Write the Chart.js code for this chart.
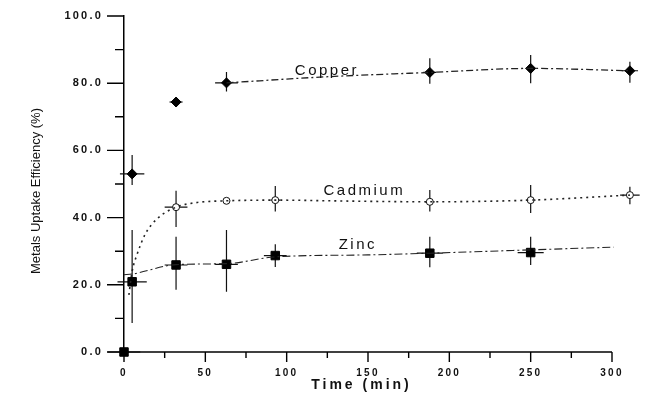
<!DOCTYPE html>
<html><head><meta charset="utf-8">
<script src="https://cdn.jsdelivr.net/npm/chart.js@4"></script>
<style>html,body{margin:0;padding:0;background:#fff}#wrap{width:645px;height:393px}</style>
</head><body><div id="wrap"><canvas id="c" width="645" height="393"></canvas></div>
<script>
// ---- data ----
const xTickValues = [0, 50, 100, 150, 200, 250, 300];
const yTickValues = [0, 20, 40, 60, 80, 100];

const copperT  = [5, 32, 63, 188, 250, 311];
const copperY  = [53.0, 74.4, 80.1, 83.2, 84.4, 83.7];
const copperLo = [49.7, null, 77.5, 79.8, 80.0, 80.1];
const copperHi = [58.6, null, 83.3, 87.4, 88.4, 86.4];
const copperXe = [7.5, 4, 7, 4, 3, 5];
const copperCurveT = [63, 124, 188, 250, 311];
const copperCurveY = [80.1, 81.9, 83.2, 84.4, 83.7];

const cadmiumT  = [32, 63, 93, 188, 250, 311];
const cadmiumY  = [43.1, 45.0, 45.2, 44.7, 45.2, 46.7];
const cadmiumLo = [37.2, null, 41.8, 41.8, 41.4, 44.0];
const cadmiumHi = [48.0, null, 49.4, 48.2, 49.7, 49.2];
const cadmiumXe = [7, 0, 3, 3, 3, 6];
const cadmiumCurveT = [3, 5, 8, 13, 20, 32, 45, 63, 93, 140, 188, 250, 311];
const cadmiumCurveY = [17, 24, 29, 35, 39.5, 43.1, 44.5, 45.0, 45.2, 44.9, 44.7, 45.2, 46.7];

const zincT  = [0, 5, 32, 63, 93, 188, 250];
const zincY  = [0, 20.9, 25.9, 26.1, 28.7, 29.4, 29.6];
const zincLo = [null, 8.6, 18.5, 17.9, 25.3, 25.2, 25.9];
const zincHi = [null, 36.3, 34.3, 36.3, 32.1, 34.3, 34.3];
const zincXe = [10, 9, 7, 7, 7, 8, 8];
const zincCurveT = [0, 5, 32, 63, 93, 150, 188, 250, 301];
const zincCurveY = [23.0, 23.2, 26.0, 26.3, 28.3, 28.9, 29.4, 30.4, 31.2];

const seriesLabels = ['Copper', 'Cadmium', 'Zinc'];
const seriesLabelT = [124, 147, 143];
const seriesLabelY = [83.6, 47.9, 31.8];

const yTitle = 'Metals Uptake Efficiency (%)';
const xTitle = 'Time (min)';

const pts = (xs, ys) => xs.map((x, i) => ({x: x, y: ys[i]}));

const errSeries = [
  {t: copperT, y: copperY, lo: copperLo, hi: copperHi, xe: copperXe},
  {t: cadmiumT, y: cadmiumY, lo: cadmiumLo, hi: cadmiumHi, xe: cadmiumXe},
  {t: zincT, y: zincY, lo: zincLo, hi: zincHi, xe: zincXe}
];

const errorBars = {
  id: 'errorBars',
  beforeDatasetsDraw(chart) {
    const {ctx, scales: {x, y}} = chart;
    ctx.save();
    ctx.strokeStyle = '#111';
    ctx.lineWidth = 1.2;
    errSeries.forEach(s => {
      s.t.forEach((t, i) => {
        const px = x.getPixelForValue(t), py = y.getPixelForValue(s.y[i]);
        ctx.beginPath();
        if (s.lo[i] !== null) {
          ctx.moveTo(px, y.getPixelForValue(s.lo[i]));
          ctx.lineTo(px, y.getPixelForValue(s.hi[i]));
        }
        if (s.xe[i]) {
          ctx.moveTo(x.getPixelForValue(t - s.xe[i]), py);
          ctx.lineTo(x.getPixelForValue(t + s.xe[i]), py);
        }
        ctx.stroke();
      });
    });
    ctx.restore();
  }
};

const decor = {
  id: 'decor',
  beforeDraw(chart) {
    chart.ctx.letterSpacing = '2.2px';
  },
  afterDraw(chart) {
    const {ctx, scales: {x, y}, chartArea: a} = chart;
    ctx.save();
    ctx.strokeStyle = '#000';
    ctx.lineWidth = 1.5;
    ctx.beginPath();
    ctx.moveTo(x.getPixelForValue(0), a.bottom);
    ctx.lineTo(x.getPixelForValue(300), a.bottom);
    ctx.stroke();
    ctx.lineWidth = 1.4;
    ctx.beginPath();
    for (let v = 0; v <= 100; v += 10) {
      const py = y.getPixelForValue(v);
      const len = (v % 20 === 0) ? 17 : 9;
      ctx.moveTo(a.left - len, py); ctx.lineTo(a.left, py);
    }
    for (let v = 0; v <= 300; v += 25) {
      const px = x.getPixelForValue(v);
      const len = (v % 50 === 0) ? 10 : 6;
      ctx.moveTo(px, a.bottom); ctx.lineTo(px, a.bottom + len);
    }
    ctx.stroke();

    ctx.fillStyle = '#111';
    ctx.textBaseline = 'middle';
    ctx.textAlign = 'left';
    ctx.font = '15px "Liberation Sans", Arial, sans-serif';
    ctx.letterSpacing = '2.5px';
    seriesLabels.forEach((s, i) => {
      const w = ctx.measureText(s).width;
      ctx.fillText(s, x.getPixelForValue(seriesLabelT[i]) - w / 2 + 1.2, y.getPixelForValue(seriesLabelY[i]));
    });

    ctx.font = 'bold 14px "Liberation Sans", Arial, sans-serif';
    ctx.letterSpacing = '3px';
    const wx = ctx.measureText(xTitle).width;
    ctx.fillText(xTitle, 360 - wx / 2 + 1.5, 385);

    ctx.letterSpacing = '0px';
    ctx.font = '13px "Liberation Sans", Arial, sans-serif';
    ctx.translate(36, 191);
    ctx.rotate(-Math.PI / 2);
    ctx.textAlign = 'center';
    ctx.fillText(yTitle, 0, 0);
    ctx.restore();
  }
};

const lineBase = {type: 'line', showLine: true, pointRadius: 0, fill: false, clip: false,
  borderColor: '#222', cubicInterpolationMode: 'monotone'};

new Chart(document.getElementById('c'), {
  type: 'scatter',
  data: {
    datasets: [
      Object.assign({}, lineBase, {label: 'Copper fit', data: pts(copperCurveT, copperCurveY), borderWidth: 1.3, borderDash: [7, 3, 2, 3]}),
      Object.assign({}, lineBase, {label: 'Cadmium fit', data: pts(cadmiumCurveT, cadmiumCurveY), borderWidth: 1.6, borderDash: [2, 4]}),
      Object.assign({}, lineBase, {label: 'Zinc fit', data: pts(zincCurveT, zincCurveY), borderWidth: 1.1, borderDash: [8, 3, 2, 3]}),
      {label: 'Copper', data: pts(copperT, copperY), showLine: false, clip: false, pointStyle: 'rectRot', pointRadius: 5,
        backgroundColor: '#000', borderColor: '#000', borderWidth: 1},
      {label: 'Cadmium', data: pts(cadmiumT, cadmiumY), showLine: false, clip: false, pointStyle: 'circle', pointRadius: 3.5,
        backgroundColor: '#fff', borderColor: '#111', borderWidth: 1},
      {label: 'Zinc', data: pts(zincT, zincY), showLine: false, clip: false, pointStyle: 'rect', pointRadius: 6,
        backgroundColor: '#000', borderColor: '#000', borderWidth: 1}
    ]
  },
  options: {
    responsive: false,
    animation: false,
    devicePixelRatio: 1,
    layout: {padding: {top: 16, right: 8.6, left: 0, bottom: 0}},
    plugins: {legend: {display: false}, tooltip: {enabled: false}},
    scales: {
      x: {
        type: 'linear', min: 0, max: 315,
        afterFit: s => { s.height = 41; s.paddingLeft = 0; s.paddingRight = 0; },
        afterBuildTicks: s => { s.ticks = xTickValues.map(v => ({value: v})); },
        ticks: {color: '#111', font: {size: 10, weight: 'bold', family: '"Liberation Sans", Arial, sans-serif'}, padding: 7, maxRotation: 0, autoSkip: false},
        grid: {display: false},
        border: {display: false}
      },
      y: {
        type: 'linear', min: 0, max: 100,
        afterFit: s => { s.width = 124; s.paddingTop = 0; s.paddingBottom = 0; },
        afterBuildTicks: s => { s.ticks = yTickValues.map(v => ({value: v})); },
        ticks: {color: '#111', font: {size: 11, weight: 'bold', family: '"Liberation Sans", Arial, sans-serif'}, padding: 13,
          callback: v => Number(v).toFixed(1)},
        grid: {display: false},
        border: {display: true, color: '#000', width: 1.5}
      }
    }
  },
  plugins: [errorBars, decor]
});
</script></body></html>
